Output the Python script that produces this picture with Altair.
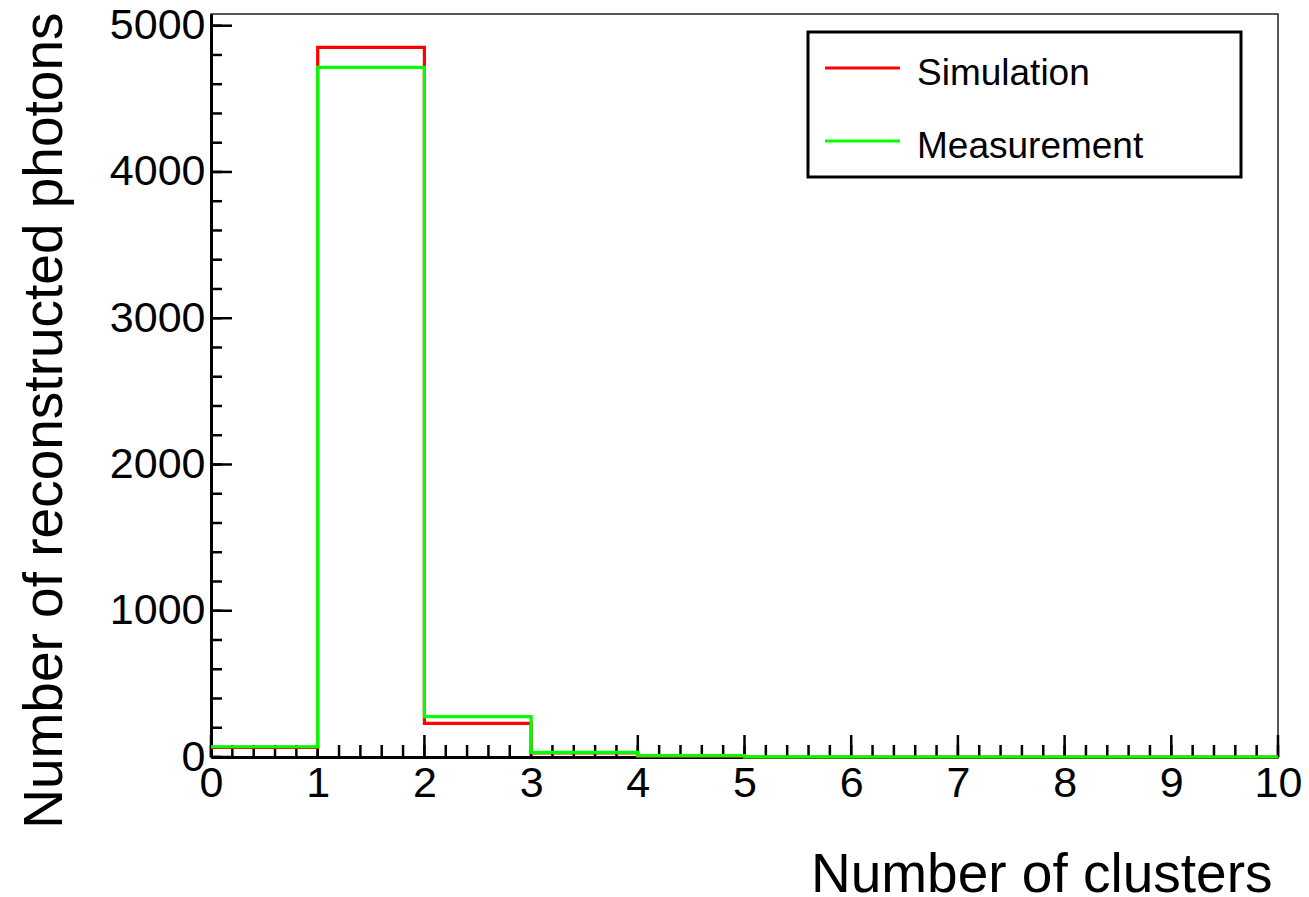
import altair as alt
import pandas as pd
import numpy as np

# Histogram contents: 10 unit-wide bins from 0 to 10
bin_edges = list(range(11))
simulation = [66, 4852, 230, 28, 5, 0, 0, 0, 0, 0]
measurement = [70, 4715, 276, 32, 9, 1, 0, 0, 0, 0]

series_names = ["Simulation", "Measurement"]
series_colors = ["#ff0000", "#00ff00"]

x_tick_labels = list(range(11))
y_tick_labels = [0, 1000, 2000, 3000, 4000, 5000]

FONT = "Liberation Sans, Arial, Helvetica, sans-serif"
W, H = 1067, 743
X_DOMAIN = [0, 10]
Y_DOMAIN = [0, 5080]


def step_frame(values):
    # step-after line: one point per bin low edge plus the final edge
    ys = list(values) + [values[-1]]
    return pd.DataFrame({"x": bin_edges, "y": ys})


xs = alt.Scale(domain=X_DOMAIN, nice=False, zero=False)
ys = alt.Scale(domain=Y_DOMAIN, nice=False)

x_axis = alt.Axis(
    values=x_tick_labels, title="Number of clusters", titleFont=FONT,
    titleFontSize=55, titleFontWeight="normal", titleColor="black",
    titleAlign="right", titleBaseline="alphabetic", titleX=W - 6, titleY=134,
    titleAngle=0, labelFont=FONT, labelFontSize=43, labelColor="black",
    labelPadding=5, labelFlush=False, labelOverlap=False, ticks=False,
    tickSize=0, domainColor="black", domainWidth=3, grid=False, zindex=0,
)
y_axis = alt.Axis(
    values=y_tick_labels, title="Number of reconstructed photons",
    titleFont=FONT, titleFontSize=55, titleFontWeight="normal",
    titleColor="black", titleAngle=-90, titleAlign="right",
    titleBaseline="alphabetic", titleX=-150, titleY=-2, labelFont=FONT,
    labelFontSize=43, labelColor="black", labelPadding=6, labelFlush=False,
    labelOverlap=False, ticks=False, tickSize=0, domainColor="black",
    domainWidth=3, grid=False, format="d", zindex=0,
)

# Inward-pointing ticks (major at every unit / 1000, minor at fifths)
x_minor = pd.DataFrame({"x": np.round(np.arange(0, 10.001, 0.2), 2)})
x_major = pd.DataFrame({"x": x_tick_labels})
y_minor = pd.DataFrame({"y": np.arange(0, 5001, 200)})
y_major = pd.DataFrame({"y": y_tick_labels})

tick_style = dict(color="black", strokeWidth=2.5)

x_minor_ticks = alt.Chart(x_minor).mark_rule(**tick_style).encode(
    x=alt.X("x:Q", scale=xs, axis=x_axis), y=alt.value(H), y2=alt.value(H - 12)
)
x_major_ticks = alt.Chart(x_major).mark_rule(**tick_style).encode(
    x=alt.X("x:Q", scale=xs, axis=x_axis), y=alt.value(H), y2=alt.value(H - 22)
)
y_minor_ticks = alt.Chart(y_minor).mark_rule(**tick_style).encode(
    y=alt.Y("y:Q", scale=ys, axis=y_axis), x=alt.value(0), x2=alt.value(11)
)
y_major_ticks = alt.Chart(y_major).mark_rule(**tick_style).encode(
    y=alt.Y("y:Q", scale=ys, axis=y_axis), x=alt.value(0), x2=alt.value(21)
)


def step_line(values, color):
    return alt.Chart(step_frame(values)).mark_line(
        interpolate="step-after", color=color, strokeWidth=3.2
    ).encode(
        x=alt.X("x:Q", scale=xs, axis=x_axis),
        y=alt.Y("y:Q", scale=ys, axis=y_axis),
    )


sim_line = step_line(simulation, series_colors[0])
meas_line = step_line(measurement, series_colors[1])

# Legend box
one = alt.Data(values=[{}])
legend_box = alt.Chart(one).mark_rect(
    fill="white", stroke="black", strokeWidth=3
).encode(x=alt.value(597), x2=alt.value(1030), y=alt.value(18), y2=alt.value(163))

legend_parts = [legend_box]
for name, color, ly in zip(series_names, series_colors, [54, 127]):
    legend_parts.append(
        alt.Chart(one).mark_rule(color=color, strokeWidth=3).encode(
            x=alt.value(614), x2=alt.value(689), y=alt.value(ly)
        )
    )
    legend_parts.append(
        alt.Chart(one).mark_text(
            text=name, font=FONT, fontSize=37, color="black",
            align="left", baseline="alphabetic",
        ).encode(x=alt.value(706), y=alt.value(ly + 17))
    )

chart = alt.layer(
    x_minor_ticks, x_major_ticks, y_minor_ticks, y_major_ticks,
    sim_line, meas_line, *legend_parts,
).properties(
    width=W, height=H,
    autosize=alt.AutoSizeParams(type="none"),
    padding={"left": 211, "top": 14, "right": 31, "bottom": 140},
    background="white",
).configure_view(
    stroke="#222222", strokeWidth=1.5
)

chart.save("out.html", embed_options={"renderer": "svg", "actions": False})
